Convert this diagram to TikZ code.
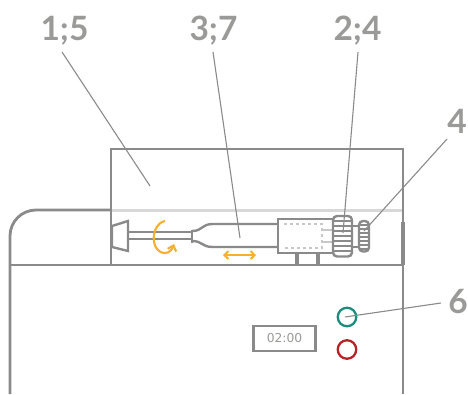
\documentclass[tikz,border=0pt]{standalone}
\usepackage{fontspec}
\setmainfont{Lato}
\newfontfamily\timerfont{DejaVu Sans}
\usetikzlibrary{arrows.meta, positioning}
\definecolor{linegray}{HTML}{8A8A8A}
\definecolor{textgray}{HTML}{9A9A98}
\definecolor{palegray}{HTML}{D8D8D8}
\definecolor{dotgray}{HTML}{C8C8C8}
\definecolor{turnyellow}{HTML}{F5B02E}
\definecolor{okgreen}{HTML}{1C8C7C}
\definecolor{stopred}{HTML}{B92328}
\tikzset{x=1pt, y=-1pt, % Pixel coordinates, origin top left
wall/.style={draw=linegray, line width=2.8pt},
part/.style={draw=linegray, line width=2.4pt},
thinpart/.style={draw=linegray, line width=1.2pt},
leader/.style={draw=linegray, line width=1.1pt},
callout/.style={text=textgray, font=\fontsize{33.5}{36}\selectfont\bfseries, anchor=base, inner sep=0pt},
lamp/.style={circle, draw=#1, line width=2.3pt, minimum size=18.5pt, inner sep=0pt},
motion/.style={draw=turnyellow, line width=2.1pt, -{Straight Barb[length=5pt, width=9pt]}}}

\begin{document}
\begin{tikzpicture}
    \useasboundingbox (0,0) rectangle (468,394);

    % housing
    \draw[palegray, line width=3.4pt] (111,210.5) -- (403,210.5);
    \draw[wall, rounded corners=26pt] (111,210) -- (10,210) -- (10,394);
    \draw[wall] (111,265) rectangle (403,149);
    \draw[wall] (10,265) -- (111,265);
    \draw[wall] (403,265) -- (403,394);
    \draw[draw=linegray, line width=3.6pt] (403,222) -- (403,265);

    % plunger
    \draw[part] (112,226) -- (128,221) -- (128,251) -- (112,247) -- cycle;
    \draw[part] (128,232) -- (192,232);
    \draw[part] (128,239) -- (192,239);
    \draw[part] (192,230) -- (192,243);
    \draw[part] (192,231) .. controls (203,231) and (201,224) .. (213,224) -- (278,224);
    \draw[part] (192,241) .. controls (203,241) and (201,247) .. (213,247) -- (278,247);

    % connector block
    \draw[part] (278,219) rectangle (333,253);
    \draw[dotgray, line width=1.8pt, dash pattern=on 3pt off 3pt] (284,224) -- (322,224) -- (322,248) -- (284,248);
    \draw[dotgray, line width=2.4pt] (322,230) -- (333,230);
    \draw[dotgray, line width=2.4pt] (322,242) -- (333,242);
    \draw[part, line width=4.4pt] (297,253) -- (297,265);
    \draw[part, line width=4.4pt] (318,253) -- (318,265);

    % nuts
    \foreach \ribY in {221,226,...,251}
        \draw[thinpart] (334,\ribY) -- (351,\ribY);
    \draw[part, rounded corners=4pt] (333,216) rectangle (352,256.5);
    \draw[part] (352,226) -- (359,226);
    \draw[part] (352,247) -- (359,247);
    \foreach \ribY in {225,229,...,249}
        \draw[thinpart] (360,\ribY) -- (368,\ribY);
    \draw[part, rounded corners=4pt] (359,221) rectangle (369,251.5);

    % movement arrows
    \draw[motion] (165,221) .. controls (150,224) and (150,253) .. (165,253) .. controls (169,253) and (172,250) .. (174,244);
    \draw[draw=turnyellow, line width=2.1pt, {Straight Barb[length=4pt, width=8pt]}-{Straight Barb[length=4pt, width=8pt]}] (223,255) -- (256,255);

    % front panel
    \node[draw=linegray, line width=2.4pt, minimum width=62pt, minimum height=25pt, inner sep=0pt,
        text=textgray, font=\timerfont\fontsize{12.3}{14}\selectfont] (timer) at (284.5,338.5) {02:00};
    \node[lamp=okgreen] (lampgreen) at (347,317) {};
    \node[lamp=stopred] (lampred) at (347,349.5) {};

    % callouts
    \node[callout] (lab15) at (64.5,40) {1;5};
    \node[callout] (lab37) at (213.5,40) {3;7};
    \node[callout] (lab24) at (357.5,40) {2;4};
    \node[callout] (lab4) at (457,133) {4};
    \node[callout] (lab6) at (458,313) {6};

    \coordinate (end15) at (150,186);
    \coordinate (end37) at (240,238);
    \coordinate (end24) at (343,233);
    \coordinate (end4) at (364,231);
    \coordinate (end6) at (345,317);

    \draw[leader] ([shift={(-2.5,12)}]lab15.base) -- (end15);
    \draw[leader] ([shift={(-0.5,12)}]lab37.base) -- (end37);
    \draw[leader] ([shift={(0.5,12)}]lab24.base) -- (end24);
    \draw[leader] ([shift={(-10,6)}]lab4.base) -- (end4);
    \draw[leader] ([shift={(-17,-10)}]lab6.base) -- (end6);

\end{tikzpicture}
\end{document}
